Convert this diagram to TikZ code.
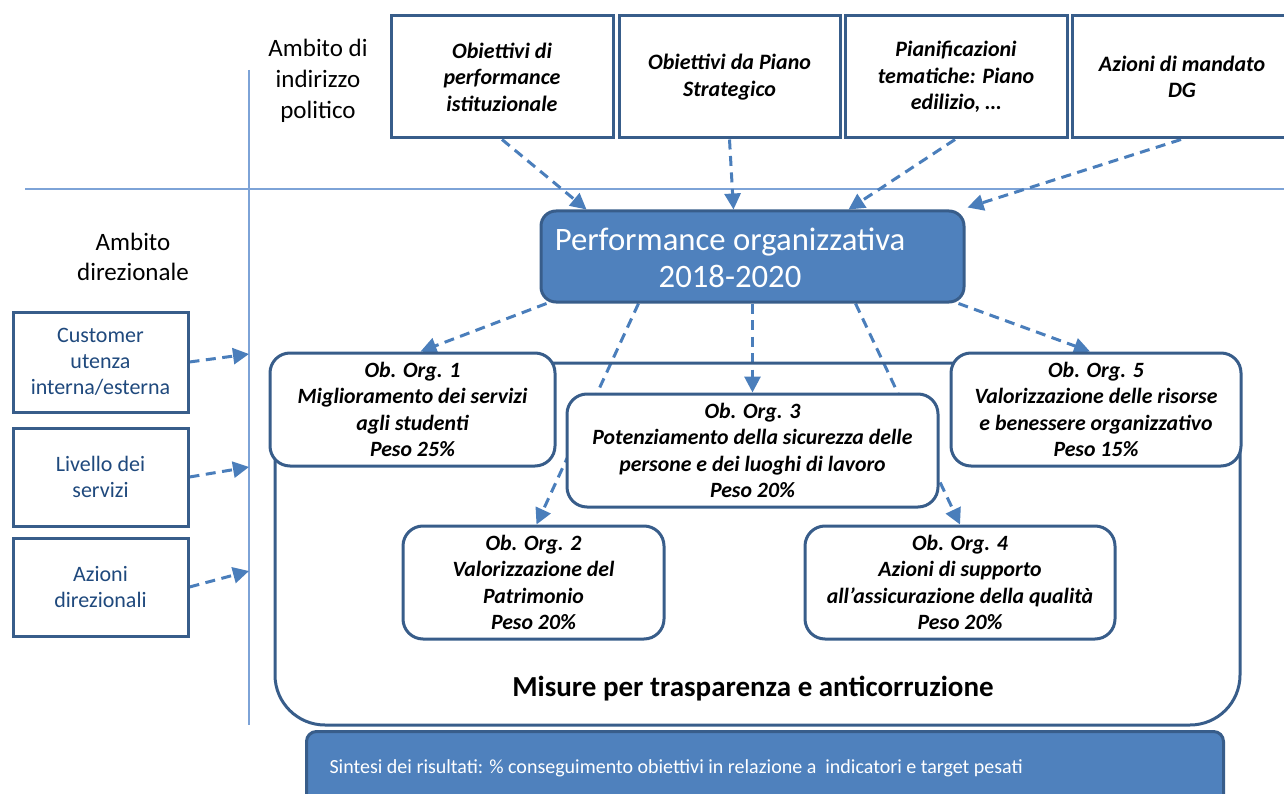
\documentclass[tikz,border=0pt]{standalone}
\usepackage{fontspec}
\setmainfont{Carlito}
\usetikzlibrary{arrows.meta,calc}
\pgfdeclarelayer{background}
\pgfsetlayers{background,main}
\definecolor{boxc}{RGB}{56,93,138}
\definecolor{fillc}{RGB}{79,129,189}
\definecolor{arrc}{RGB}{74,126,187}
\definecolor{sepc}{RGB}{125,163,215}
\definecolor{txtblue}{RGB}{31,73,125}
\begin{document}
\begin{tikzpicture}[x=1pt,y=-1pt,
  topbox/.style={draw=boxc, line width=3pt, fill=white, minimum height=122pt, inner sep=2pt, align=center, font=\fontsize{22}{26.5}\selectfont\bfseries\itshape},
  obbox/.style={draw=boxc, line width=3pt, fill=white, rounded corners=20pt, minimum height=113pt, inner sep=2pt, align=center, font=\fontsize{21.8}{26.5}\selectfont\bfseries\itshape},
  leftbox/.style={draw=boxc, line width=3pt, fill=white, minimum width=175pt, inner sep=2pt, text=txtblue, align=center, font=\fontsize{22}{26}\selectfont},
  darr/.style={draw=arrc, line width=3pt, dash pattern=on 10pt off 6.5pt, -{Triangle[length=16pt,width=16pt]}},
  sepline/.style={draw=sepc, line width=1.5pt},
  bluebox/.style={draw=boxc, line width=3pt, fill=fillc}
]
\useasboundingbox (0,0) rectangle (1284,794);
\clip (0,0) rectangle (1284,794);

% separators
\coordinate (h1) at (25,189);
\coordinate (h2) at (1284,189);
\coordinate (v1) at (249,70);
\coordinate (v2) at (249,725);
\coordinate (e1) at (249,354);
\coordinate (e2) at (249,467);
\coordinate (e3) at (249,571);

% labels
\node[align=center, font=\fontsize{25}{31}\selectfont] (amb1) at (318,81) {Ambito di\\indirizzo\\politico};
\node[align=center, font=\fontsize{25}{30}\selectfont] (amb2) at (133,257) {Ambito\\direzionale};

% top boxes
\node[topbox, minimum width=222pt] (t1) at (502,77) {Obiettivi di\\performance\\istituzionale};
\node[topbox, minimum width=221pt] (t2) at (729.5,77) {Obiettivi da Piano\\Strategico};
\node[topbox, minimum width=222pt] (t3) at (956,77) {Pianificazioni\\tematiche: Piano\\edilizio, …};
\node[topbox, minimum width=220pt] (t4) at (1182,77) {Azioni di mandato\\DG};

% container
\node[draw=boxc, line width=3pt, rounded corners=50pt, minimum width=965pt, minimum height=362pt] (cont) at (757.5,544) {};
\node[font=\fontsize{29}{33}\selectfont\bfseries] (mis) at (753,689) {Misure per trasparenza e anticorruzione};

% objective boxes
\node[obbox, minimum width=285pt] (o1) at (412.5,409.5) {Ob. Org. 1\\Miglioramento dei servizi\\agli studenti\\Peso 25\%};
\node[obbox, minimum width=371pt] (o3) at (752.5,450.5) {Ob. Org. 3\\Potenziamento della sicurezza delle\\persone e dei luoghi di lavoro\\Peso 20\%};
\node[obbox, minimum width=290pt] (o5) at (1096,409.5) {Ob. Org. 5\\Valorizzazione delle risorse\\e benessere organizzativo\\Peso 15\%};
\node[obbox, minimum width=261pt] (o2) at (533.5,582.5) {Ob. Org. 2\\Valorizzazione del\\Patrimonio\\Peso 20\%};
\node[obbox, minimum width=310pt] (o4) at (960,582.5) {Ob. Org. 4\\Azioni di supporto\\all’assicurazione della qualità\\Peso 20\%};

% performance box
\node[bluebox, rounded corners=15pt, minimum width=423pt, minimum height=91pt] (perf) at (752.5,256.5) {};
\node[text=white, align=center, font=\fontsize{32.7}{37}\selectfont] (perft) at (730,258) {Performance organizzativa\\2018-2020};

% bottom bar
\node[bluebox, rounded corners=10pt, minimum width=917pt, minimum height=90pt, anchor=north west] (bar) at (305,730) {};
\node[anchor=west, text=white, font=\fontsize{20}{24}\selectfont] (bart) at (326,768) {Sintesi dei risultati: \% conseguimento obiettivi in relazione a\ \ indicatori e target pesati};

% left boxes
\node[leftbox, minimum height=100pt] (c1) at (100.5,362) {Customer\\utenza\\interna/esterna};
\node[leftbox, minimum height=98pt] (c2) at (100.5,477) {Livello dei\\servizi};
\node[leftbox, minimum height=98pt] (c3) at (100.5,587) {Azioni\\direzionali};

\begin{pgfonlayer}{background}
\draw[sepline] (h1) -- (h2);
\draw[sepline] (v1) -- (v2);
\draw[darr] (t1.south) -- ($(perf.north west)+(47,0)$);
\draw[darr] (t2.south) -- ($(perf.north)+(-19,0)$);
\draw[darr] ($(t3.south)+(-1,0)$) -- ($(perf.north)+(96,0)$);
\draw[darr] ($(t4.south)+(-1,0)$) -- ($(perf.north east)+(2,-2)$);
\draw[darr] ($(perf.south west)+(7,0)$) -- ($(o1.north)+(8,0)$);
\draw[darr] (perf.south) -- (o3.north);
\draw[darr] ($(perf.south east)+(-7,0)$) -- ($(o5.north)+(-6,0)$);
\draw[darr] ($(perf.south west)+(99,0)$) -- ($(o2.north)+(3,0)$);
\draw[darr] ($(perf.south west)+(316,0)$) -- (o4.north);
\draw[darr] (c1.east) -- (e1);
\draw[darr] (c2.east) -- (e2);
\draw[darr] (c3.east) -- (e3);
\end{pgfonlayer}
\end{tikzpicture}
\end{document}
